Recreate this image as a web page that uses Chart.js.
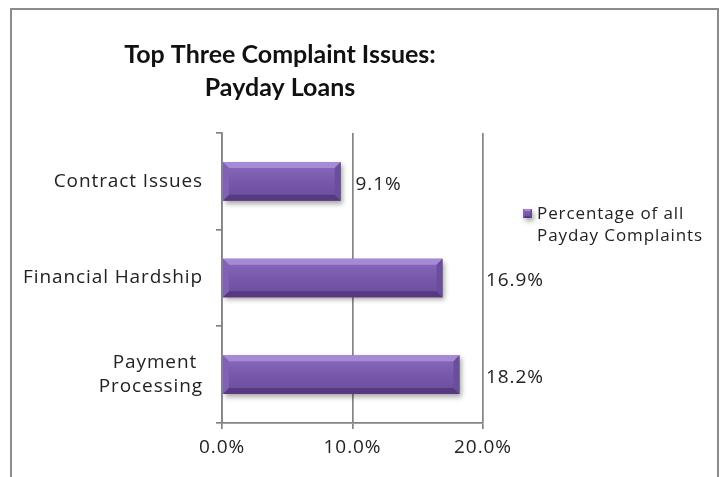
<!DOCTYPE html>
<html>
<head>
<meta charset="utf-8">
<script src="https://cdn.jsdelivr.net/npm/chart.js@4/dist/chart.umd.min.js"></script>
<style>
  body { margin: 0; background: #fff; }
</style>
</head>
<body>
<canvas id="complaintsChart" width="727" height="477"></canvas>
<script>
const categories = ['Contract Issues', 'Financial Hardship', ['Payment ', 'Processing']];
const percentages = [9.1, 16.9, 18.2];
const seriesName = ['Percentage of all', 'Payday Complaints'];
const titleLines = ['Top Three Complaint Issues:', 'Payday Loans'];
const xTicks = [0, 10, 20];

const FONT = '"Open Sans", Lato, sans-serif';
const TITLE_FONT = 'Lato, "Open Sans", sans-serif';
const SPACING = '0.9px';
const GRID = '#848484';

// wide letter spacing for all body text; the canvas resets state on resize
const spacingPlugin = {
  id: 'spacing',
  beforeUpdate(chart) { chart.ctx.letterSpacing = SPACING; },
  beforeDraw(chart) { chart.ctx.letterSpacing = SPACING; }
};

// outer frame + title
const framePlugin = {
  id: 'frame',
  beforeDraw(chart) {
    const ctx = chart.ctx;
    ctx.save();
    ctx.fillStyle = '#fff';
    ctx.fillRect(0, 0, chart.width, chart.height);
    ctx.strokeStyle = '#8c8c8c';
    ctx.lineWidth = 2;
    ctx.strokeRect(11, 9, 707, 480);
    ctx.letterSpacing = '0px';
    ctx.fillStyle = '#111';
    ctx.font = 'bold 25px ' + TITLE_FONT;
    ctx.textAlign = 'center';
    ctx.textBaseline = 'middle';
    titleLines.forEach((t, i) => ctx.fillText(t, 280, 55 + i * 33));
    ctx.restore();
  }
};

function bevelBar(ctx, left, right, top, bottom, b) {
  const h = bottom - top;
  ctx.save();
  ctx.shadowColor = 'rgba(0,0,0,0.35)';
  ctx.shadowBlur = 5;
  ctx.shadowOffsetX = 2;
  ctx.shadowOffsetY = 3;
  const g = ctx.createLinearGradient(0, top, 0, bottom);
  g.addColorStop(0, '#8a6cbe');
  g.addColorStop(0.5, '#7758aa');
  g.addColorStop(1, '#6a4c9c');
  ctx.fillStyle = g;
  ctx.fillRect(left, top, right - left, h);
  ctx.restore();

  ctx.save();
  // top bevel
  ctx.fillStyle = '#a58ad6';
  ctx.beginPath();
  ctx.moveTo(left, top); ctx.lineTo(right, top);
  ctx.lineTo(right - b, top + b); ctx.lineTo(left + b, top + b);
  ctx.closePath(); ctx.fill();
  // bottom bevel
  ctx.fillStyle = '#56397f';
  ctx.beginPath();
  ctx.moveTo(left, bottom); ctx.lineTo(right, bottom);
  ctx.lineTo(right - b, bottom - b); ctx.lineTo(left + b, bottom - b);
  ctx.closePath(); ctx.fill();
  // side bevels
  ctx.fillStyle = '#7f62b3';
  ctx.beginPath();
  ctx.moveTo(left, top); ctx.lineTo(left + b, top + b);
  ctx.lineTo(left + b, bottom - b); ctx.lineTo(left, bottom);
  ctx.closePath(); ctx.fill();
  ctx.fillStyle = '#6a4d9c';
  ctx.beginPath();
  ctx.moveTo(right, top); ctx.lineTo(right - b, top + b);
  ctx.lineTo(right - b, bottom - b); ctx.lineTo(right, bottom);
  ctx.closePath(); ctx.fill();
  ctx.restore();
}

// bars, value labels and legend
const barsPlugin = {
  id: 'bevelBars',
  afterDatasetsDraw(chart) {
    const ctx = chart.ctx;
    const xs = chart.scales.x;
    const meta = chart.getDatasetMeta(0);
    meta.data.forEach((el, i) => {
      const p = el.getProps(['x', 'y', 'base', 'height'], true);
      bevelBar(ctx, p.base, p.x, p.y - p.height / 2, p.y + p.height / 2, 6);
      // label sits just past the next gridline
      const v = percentages[i];
      const next = xTicks.find(t => t >= v);
      ctx.save();
      ctx.fillStyle = '#222';
      ctx.font = '19px ' + FONT;
      ctx.textBaseline = 'middle';
      ctx.fillText(v.toFixed(1) + '%', xs.getPixelForValue(next) + 3, p.y + 3);
      ctx.restore();
    });

    // legend
    ctx.save();
    bevelBar(ctx, 523, 532, 209, 218, 2);
    ctx.fillStyle = '#222';
    ctx.font = '17px ' + FONT;
    ctx.textBaseline = 'middle';
    seriesName.forEach((t, i) => ctx.fillText(t, 537, 214 + i * 22));
    ctx.restore();
  }
};

new Chart(document.getElementById('complaintsChart'), {
  type: 'bar',
  data: {
    labels: categories,
    datasets: [{
      label: seriesName.join(' '),
      data: percentages,
      backgroundColor: 'rgba(0,0,0,0)',
      barPercentage: 0.4,
      categoryPercentage: 1
    }]
  },
  options: {
    indexAxis: 'y',
    responsive: false,
    animation: false,
    layout: { padding: { top: 133, right: 244, bottom: 0, left: 0 } },
    scales: {
      x: {
        min: 0,
        max: 20,
        afterFit: s => { s.height = 54; },
        afterBuildTicks: s => { s.ticks = xTicks.map(v => ({ value: v })); },
        ticks: {
          padding: 7,
          color: '#222',
          font: { family: FONT, size: 19 },
          callback: v => v.toFixed(1) + '%'
        },
        grid: { color: GRID, lineWidth: 1.7, tickLength: 6 },
        border: { color: GRID, width: 1.7 }
      },
      y: {
        afterFit: s => { s.width = 222; },
        ticks: {
          padding: 13,
          color: '#222',
          font: { family: FONT, size: 19, lineHeight: 1.26 }
        },
        grid: { color: GRID, lineWidth: 1.7, tickLength: 6, drawOnChartArea: false },
        border: { color: GRID, width: 1.7 }
      }
    },
    plugins: {
      legend: { display: false },
      title: { display: false },
      tooltip: { enabled: false }
    }
  },
  plugins: [spacingPlugin, framePlugin, barsPlugin]
});
</script>
</body>
</html>
